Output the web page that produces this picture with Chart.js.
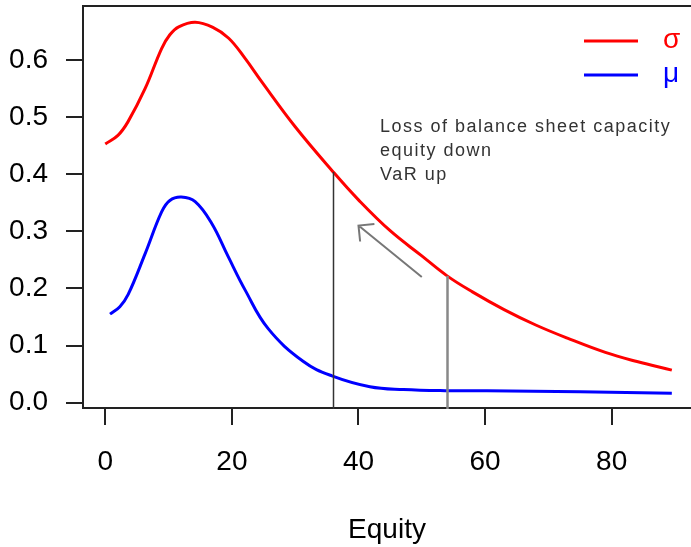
<!DOCTYPE html>
<html>
<head>
<meta charset="utf-8">
<script src="https://cdn.jsdelivr.net/npm/chart.js@4.4.1/dist/chart.umd.min.js"></script>
<style>
  html, body { margin: 0; padding: 0; background: #fff; }
  #wrap { width: 691px; height: 547px; }
</style>
</head>
<body>
<div id="wrap"><canvas id="c" width="691" height="547"></canvas></div>
<script>
// sigma curve (red)
const sigmaX = [0, 2, 3.6, 6.3, 8.9, 10.2, 11.6, 14.2, 17, 19.5, 22, 24.7, 30, 36, 40, 45, 50, 54, 58, 63, 68, 73, 79, 84, 89.5];
const sigmaY = [0.453, 0.468, 0.492, 0.550, 0.620, 0.644, 0.658, 0.666, 0.657, 0.638, 0.604, 0.562, 0.483, 0.404, 0.355, 0.301, 0.257, 0.222, 0.194, 0.163, 0.136, 0.113, 0.088, 0.072, 0.057];
// mu curve (blue)
const muX = [0.75, 2.3, 3.6, 6.3, 8.9, 10.2, 12, 14.2, 16.8, 19.4, 22.1, 25.7, 31.3, 35.8, 41.8, 47.1, 53.7, 60.3, 75, 89.5];
const muY = [0.155, 0.168, 0.189, 0.261, 0.334, 0.354, 0.360, 0.352, 0.314, 0.256, 0.197, 0.130, 0.072, 0.047, 0.028, 0.023, 0.021, 0.021, 0.019, 0.0165];

const xTicks = [0, 20, 40, 60, 80];
const yTicks = [0, 0.1, 0.2, 0.3, 0.4, 0.5, 0.6];

// annotations, in data units
const markX = [36, 54];
const markTop = [0.404, 0.222];
const arrowFrom = [50, 0.22];
const arrowTo = [40, 0.31];
const noteX = 43.4;
const noteY = 0.474;
const noteLines = ['Loss of balance sheet capacity', 'equity down', 'VaR up'];

Chart.defaults.font.family = '"Liberation Sans", Arial, sans-serif';

const extras = {
    id: 'extras',
    afterDatasetsDraw(chart) {
        const { ctx, chartArea: a, scales: { x, y } } = chart;
        ctx.save();

        // top edge of the plot box
        ctx.strokeStyle = '#222';
        ctx.lineWidth = 2;
        ctx.beginPath();
        ctx.moveTo(a.left - 1, a.top);
        ctx.lineTo(a.right, a.top);
        ctx.stroke();

        // vertical markers
        const markColor = ['#333', '#888'];
        const markWidth = [1.5, 2.5];
        markX.forEach((v, i) => {
            const px = Math.round(x.getPixelForValue(v)) + 0.5;
            ctx.strokeStyle = markColor[i];
            ctx.lineWidth = markWidth[i];
            ctx.beginPath();
            ctx.moveTo(px, y.getPixelForValue(markTop[i]));
            ctx.lineTo(px, a.bottom + 1);
            ctx.stroke();
        });

        // arrow
        const x0 = x.getPixelForValue(arrowFrom[0]), y0 = y.getPixelForValue(arrowFrom[1]);
        const x1 = x.getPixelForValue(arrowTo[0]), y1 = y.getPixelForValue(arrowTo[1]);
        const back = Math.atan2(y0 - y1, x0 - x1);
        const head = 16;
        ctx.strokeStyle = '#777';
        ctx.lineWidth = 2;
        ctx.beginPath();
        ctx.moveTo(x0, y0);
        ctx.lineTo(x1, y1);
        ctx.moveTo(x1 + head * Math.cos(back - Math.PI / 4), y1 + head * Math.sin(back - Math.PI / 4));
        ctx.lineTo(x1, y1);
        ctx.lineTo(x1 + head * Math.cos(back + Math.PI / 4), y1 + head * Math.sin(back + Math.PI / 4));
        ctx.stroke();

        // note text
        ctx.fillStyle = '#333';
        ctx.font = '18px "Liberation Sans", Arial, sans-serif';
        ctx.letterSpacing = '1.5px';
        ctx.textAlign = 'left';
        ctx.textBaseline = 'alphabetic';
        const tx = x.getPixelForValue(noteX), ty = y.getPixelForValue(noteY);
        noteLines.forEach((t, i) => ctx.fillText(t, tx, ty + i * 24));
        ctx.letterSpacing = '0px';

        // legend, top right
        ctx.font = '28px "Liberation Sans", Arial, sans-serif';
        chart.data.datasets.forEach((ds, i) => {
            const ly = a.top + 35 + i * 34;
            ctx.strokeStyle = ds.borderColor;
            ctx.lineWidth = 3;
            ctx.beginPath();
            ctx.moveTo(a.right - 107, ly);
            ctx.lineTo(a.right - 53, ly);
            ctx.stroke();
            ctx.fillStyle = ds.borderColor;
            ctx.fillText(ds.label, a.right - 28, ly + 7);
        });
        ctx.restore();
    }
};

new Chart(document.getElementById('c'), {
    type: 'line',
    data: {
        datasets: [
            {
                label: 'σ',
                data: sigmaX.map((v, i) => ({ x: v, y: sigmaY[i] })),
                borderColor: '#ff0000',
                borderWidth: 3,
                pointRadius: 0,
                tension: 0.4
            },
            {
                label: 'μ',
                data: muX.map((v, i) => ({ x: v, y: muY[i] })),
                borderColor: '#0000ff',
                borderWidth: 3,
                pointRadius: 0,
                tension: 0.4
            }
        ]
    },
    options: {
        responsive: false,
        animation: false,
        devicePixelRatio: 1,
        layout: { padding: { top: 6, left: 0, right: 0, bottom: 0 } },
        plugins: {
            legend: { display: false },
            tooltip: { enabled: false }
        },
        scales: {
            x: {
                type: 'linear',
                min: -3.52,
                max: 92.53,
                afterBuildTicks: s => { s.ticks = xTicks.map(v => ({ value: v })); },
                afterFit: s => { s.height = 139; s.paddingLeft = 0; s.paddingRight = 0; },
                grid: { drawOnChartArea: false, tickLength: 17, color: '#222', lineWidth: 2 },
                border: { display: true, color: '#222', width: 2 },
                ticks: { padding: 20, color: '#000', font: { size: 28 }, maxRotation: 0, autoSkip: false },
                title: { display: true, text: 'Equity', color: '#000', font: { size: 28 }, padding: 0 }
            },
            y: {
                type: 'linear',
                min: -0.0093,
                max: 0.6944,
                afterBuildTicks: s => { s.ticks = yTicks.map(v => ({ value: v })); },
                afterFit: s => { s.width = 83; s.paddingTop = 0; s.paddingBottom = 0; },
                grid: { drawOnChartArea: false, tickLength: 17, color: '#222', lineWidth: 2 },
                border: { display: true, color: '#222', width: 2 },
                ticks: {
                    padding: 18, color: '#000', font: { size: 28 }, autoSkip: false,
                    callback: v => v.toFixed(1)
                }
            }
        }
    },
    plugins: [extras]
});
</script>
</body>
</html>
